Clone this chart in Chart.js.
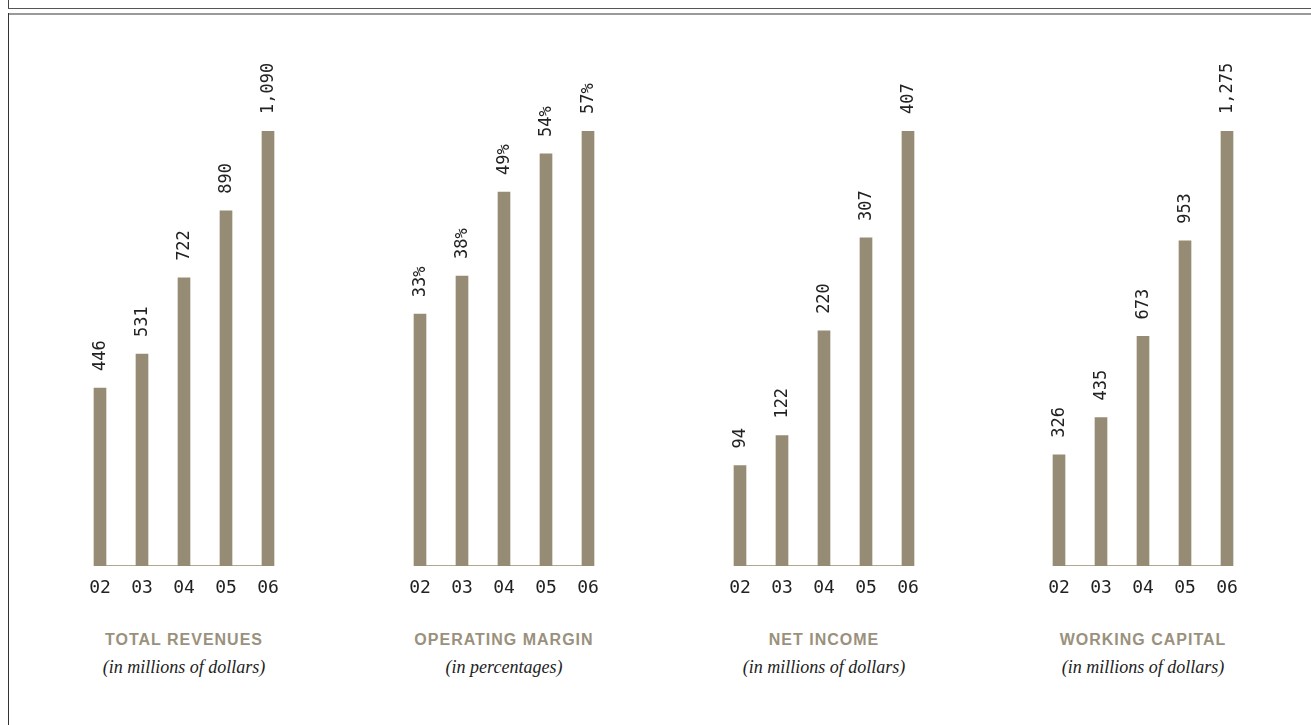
<!DOCTYPE html>
<html>
<head>
<meta charset="utf-8">
<script src="https://cdn.jsdelivr.net/npm/chart.js@4/dist/chart.umd.min.js"></script>
<style>
  html, body { margin: 0; padding: 0; background: #fff; }
  body { width: 1311px; height: 725px; position: relative; overflow: hidden; }
  .rule { position: absolute; }
  .panel { position: absolute; top: 0; width: 300px; height: 725px; }
  .panel canvas { position: absolute; left: 0; top: 0; }
  .ttl { position: absolute; left: 0; width: 300px; text-align: center;
         font-family: "Liberation Sans", Arial, sans-serif; font-weight: bold;
         font-size: 16px; letter-spacing: 1px; color: #9a917d; top: 631px; }
  .sub { position: absolute; left: 0; width: 300px; text-align: center;
         font-family: "Liberation Serif", "DejaVu Serif", serif; font-style: italic;
         font-size: 18px; color: #222; top: 657px; }
</style>
</head>
<body>
<div class="rule" style="left:8px;top:0;width:1px;height:9px;background:#444"></div>
<div class="rule" style="left:8px;top:8px;right:0;height:1px;background:#555"></div>
<div class="rule" style="left:8px;top:13px;right:0;height:2px;background:#9a9a9a"></div>
<div class="rule" style="left:8px;top:13px;width:1px;bottom:0;background:#333"></div>

<script>
// Fiscal years shown on each small chart
const years = ['02', '03', '04', '05', '06'];

// Series values
const totalRevenues   = [446, 531, 722, 890, 1090];
const operatingMargin = [33, 38, 49, 54, 57];
const netIncome       = [94, 122, 220, 307, 407];
const workingCapital  = [326, 435, 673, 953, 1275];

// Panel captions
const titles    = ['TOTAL REVENUES', 'OPERATING MARGIN', 'NET INCOME', 'WORKING CAPITAL'];
const subtitles = ['(in millions of dollars)', '(in percentages)', '(in millions of dollars)', '(in millions of dollars)'];
const suffixes  = ['', '%', '', ''];

const panels = [
  { values: totalRevenues,   center: 184 },
  { values: operatingMargin, center: 504 },
  { values: netIncome,       center: 824 },
  { values: workingCapital,  center: 1143 }
];

const BAR = '#968b74';

// Thin baseline spanning the outer edges of the first and last bars
const baselinePlugin = {
  id: 'baseline',
  beforeDatasetsDraw(chart) {
    const y = chart.scales.y, ctx = chart.ctx;
    const meta = chart.getDatasetMeta(0);
    const first = meta.data[0], last = meta.data[meta.data.length - 1];
    const y0 = Math.round(y.getPixelForValue(0)) - 0.5;
    ctx.save();
    ctx.strokeStyle = '#b0a892';
    ctx.lineWidth = 1;
    ctx.beginPath();
    ctx.moveTo(first.x - first.width / 2, y0);
    ctx.lineTo(last.x + last.width / 2, y0);
    ctx.stroke();
    ctx.restore();
  }
};

// Rotated value labels above each bar
const valueLabelPlugin = {
  id: 'valueLabels',
  afterDatasetsDraw(chart, args, opts) {
    const ctx = chart.ctx;
    const ds = chart.data.datasets[0];
    const meta = chart.getDatasetMeta(0);
    ctx.save();
    ctx.font = '17px "DejaVu Sans Mono", monospace';
    ctx.fillStyle = '#222';
    ctx.textAlign = 'left';
    ctx.textBaseline = 'middle';
    meta.data.forEach((bar, i) => {
      const txt = ds.data[i].toLocaleString('en-US') + (opts.suffix || '');
      ctx.save();
      ctx.translate(bar.x + 1, bar.y - 17);
      ctx.rotate(-Math.PI / 2);
      ctx.fillText(txt, 0, 0);
      ctx.restore();
    });
    ctx.restore();
  }
};

panels.forEach((p, idx) => {
  const wrap = document.createElement('div');
  wrap.className = 'panel';
  wrap.style.left = (p.center - 150) + 'px';
  const cv = document.createElement('canvas');
  cv.width = 300; cv.height = 620;
  cv.style.width = '300px'; cv.style.height = '620px';
  wrap.appendChild(cv);
  const t = document.createElement('div'); t.className = 'ttl'; t.textContent = titles[idx];
  const s = document.createElement('div'); s.className = 'sub'; s.textContent = subtitles[idx];
  wrap.appendChild(t); wrap.appendChild(s);
  document.body.appendChild(wrap);

  new Chart(cv, {
    type: 'bar',
    data: {
      labels: years,
      datasets: [{ data: p.values, backgroundColor: BAR, barThickness: 12, borderWidth: 0 }]
    },
    options: {
      responsive: false,
      animation: false,
      devicePixelRatio: 1,
      layout: { padding: { top: 131, bottom: 0, left: 45, right: 45 } },
      plugins: {
        legend: { display: false },
        tooltip: { enabled: false },
        valueLabels: { suffix: suffixes[idx] }
      },
      scales: {
        x: {
          offset: true,
          grid: { display: false, drawTicks: false },
          border: { display: false },
          ticks: {
            color: '#222',
            padding: 12,
            font: { family: '"DejaVu Sans Mono", monospace', size: 18 }
          },
          afterFit(scale) { scale.height = 54; }
        },
        y: {
          display: false,
          min: 0,
          max: Math.max(...p.values)
        }
      }
    },
    plugins: [baselinePlugin, valueLabelPlugin]
  });
});
</script>
</body>
</html>
